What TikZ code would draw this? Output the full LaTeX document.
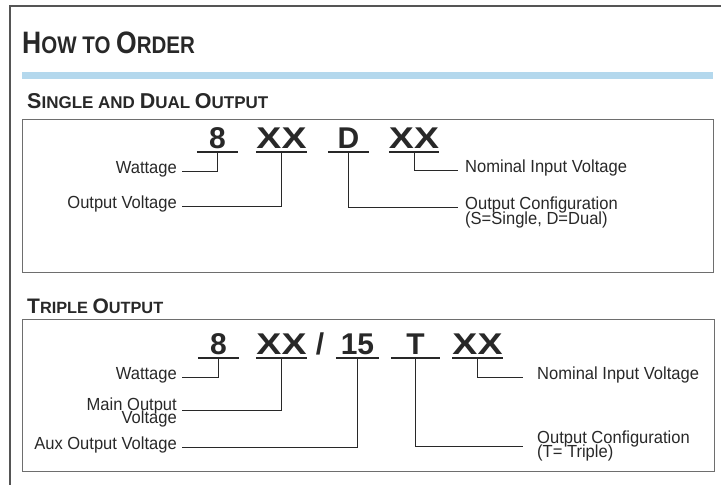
\documentclass[tikz,border=0pt]{standalone}
\usepackage{fontspec}
\setmainfont{Liberation Sans}
\newfontfamily\condfont{Liberation Sans}[FakeStretch=0.945]
\newfontfamily\headfont{Liberation Sans}[FakeStretch=0.855]
\usetikzlibrary{positioning}
\usepackage{xcolor}
\definecolor{barblue}{RGB}{180,216,237}
\definecolor{framegray}{RGB}{85,85,85}
\definecolor{boxgray}{RGB}{110,110,110}
\definecolor{inkgray}{RGB}{40,40,40}
\def\hbig{31}
\newcommand\scword[2]{{\fontsize{\hbig}{\hbig}\selectfont #1}#2}
\newcommand\lstack[2]{\vtop{\lineskiplimit=-\maxdimen\halign{##\hfil\cr#1\cr#2\cr}}}
\newcommand\rstack[2]{\vtop{\lineskiplimit=-\maxdimen\halign{\hfil##\cr#1\cr#2\cr}}}

\begin{document}
\begin{tikzpicture}[x=1pt, y=-1pt,
  head/.style={anchor=base west, inner sep=0pt, text=inkgray},
  code/.style={anchor=base, inner sep=0pt, text height=22pt, text depth=4pt, text=inkgray,
               font=\fontsize{30}{30}\selectfont\bfseries},
  uline/.style={line width=2.5pt, inkgray},
  llab/.style={anchor=mid east, inner ysep=0pt, inner xsep=5pt, text=inkgray,
               font=\condfont\fontsize{17.5}{14.5}\selectfont},
  rlab/.style={anchor=mid west, inner ysep=0pt, inner xsep=7pt, text=inkgray,
               font=\condfont\fontsize{17.5}{14.5}\selectfont},
  conn/.style={line width=0.9pt, inkgray}]
\useasboundingbox (0,0) rectangle (721,485);
\draw[framegray, line width=1.6pt] (722,6) -- (10,6) -- (10,486);
\fill[barblue] (22,72) rectangle (713,79);
\node[head, font=\headfont\bfseries\fontsize{24}{24}\selectfont\def\hbig{31}] (title) at (22,53)
  {\scword{H}{OW} TO \scword{O}{RDER}};

% single and dual output
\node[head, font=\bfseries\fontsize{17}{17}\selectfont\def\hbig{21.5}] (sdhead) at (27,108)
  {\scword{S}{INGLE} AND \scword{D}{UAL} \scword{O}{UTPUT}};
\draw[boxgray, line width=1pt] (22,119) rectangle (713,272);
\node[code, minimum width=41pt] (sw) at (217.5,148) {8};
\node[code, minimum width=51pt] (sv) at (281.5,148) {\scalebox{1.25}[1]{XX}};
\node[code, minimum width=41pt] (sc) at (348.5,148) {D};
\node[code, minimum width=50pt] (sn) at (414,148) {\scalebox{1.25}[1]{XX}};
\foreach \n in {sw,sv,sc,sn}
  \draw[uline] (\n.south west) -- (\n.south east);
\node[llab] (swl) at (182,171) {Wattage};
\node[llab] (svl) at (182,206) {Output Voltage};
\node[rlab] (snl) at (458,170) {Nominal Input Voltage};
\node[rlab] (scl) at (458,207) {\lstack{Output Configuration}{(S=Single, D=Dual)}};
\draw[conn] (sw.south) |- (swl.mid east);
\draw[conn] (sv.south) |- (svl.mid east);
\draw[conn] (sn.south) |- (snl.mid west);
\draw[conn] (sc.south) |- (scl.mid west);

% triple output
\node[head, font=\bfseries\fontsize{16.3}{16.3}\selectfont\def\hbig{21}] (thead) at (27,313)
  {\scword{T}{RIPLE} \scword{O}{UTPUT}};
\draw[boxgray, line width=1pt] (22,319) rectangle (714,471);
\node[code, minimum width=41pt] (tw) at (218.5,354) {8};
\node[code, minimum width=51pt] (tv) at (281.5,354) {\scalebox{1.25}[1]{XX}};
\node[code] (slash) at (320,354) {/};
\node[code, minimum width=43pt] (ta) at (357.5,354) {15};
\node[code, minimum width=49pt] (tc) at (415.5,354) {T};
\node[code, minimum width=49pt] (tn) at (477.5,354) {\scalebox{1.25}[1]{XX}};
\foreach \n in {tw,tv,ta,tc,tn}
  \draw[uline] (\n.south west) -- (\n.south east);
\node[llab] (twl) at (182,377) {Wattage};
\node[llab, anchor=base east, font=\condfont\fontsize{17.5}{13}\selectfont] (tvl) at (182,410)
  {\rstack{Main Output}{Voltage}};
\node[llab] (tal) at (182,447) {Aux Output Voltage};
\node[rlab, inner xsep=14pt] (tnl) at (523,377) {Nominal Input Voltage};
\node[rlab, anchor=west, inner xsep=14pt] (tcl) at (523,446) {\lstack{Output Configuration}{(T= Triple)}};
\draw[conn] (tw.south) |- (twl.mid east);
\draw[conn] (tv.south) |- (tvl.base east);
\draw[conn] (ta.south) |- (tal.mid east);
\draw[conn] (tn.south) |- (tnl.mid west);
\draw[conn] (tc.south) |- (tcl.west);
\end{tikzpicture}
\end{document}
